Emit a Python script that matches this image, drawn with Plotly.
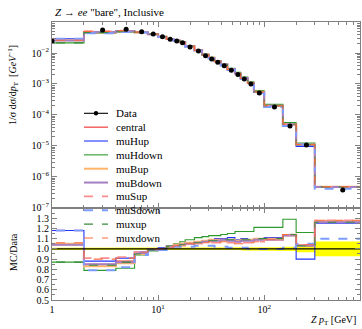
import plotly.graph_objects as go

# ---------------- data ----------------
bin_edges = [0, 2, 4, 6, 8, 10, 12, 14, 16, 18, 22, 26, 30, 34, 39, 45, 53, 60, 70, 80, 100, 150, 200, 300, 800]
data_vals = [0.0244, 0.0552, 0.058, 0.0487, 0.041, 0.0336, 0.0277, 0.0244, 0.0215, 0.0156, 0.0116, 0.0082,
             0.0064, 0.0050, 0.0039, 0.0028, 0.00204, 0.00144, 0.00100, 0.00051, 1.82e-4, 4.4e-5, 1.07e-5, 3.8e-7]
data_relerr = [0.01, 0.01, 0.01, 0.01, 0.01, 0.01, 0.01, 0.01, 0.01, 0.01, 0.01, 0.01,
               0.012, 0.012, 0.012, 0.012, 0.012, 0.015, 0.015, 0.015, 0.015, 0.02, 0.033, 0.072]

ratio_central = [1.04, 0.85, 0.88, 0.96, 0.99, 1.00, 1.02, 1.03, 1.04, 1.05, 1.06, 1.07, 1.08, 1.08, 1.09, 1.08, 1.07, 1.08, 1.08, 1.09, 1.10, 1.14, 1.04, 1.26]
ratio_muHup   = [1.18, 0.88, 0.91, 0.97, 0.99, 1.01, 1.03, 1.04, 1.05, 1.06, 1.07, 1.08, 1.09, 1.10, 1.10, 1.11, 1.09, 1.10, 1.09, 1.10, 1.11, 1.14, 0.90, 1.25]
ratio_muHdown = [0.87, 0.79, 0.81, 0.94, 0.98, 1.00, 1.03, 1.05, 1.07, 1.09, 1.11, 1.12, 1.13, 1.13, 1.14, 1.15, 1.17, 1.17, 1.17, 1.21, 1.21, 1.29, 1.16, 1.27]
ratio_muBup   = [1.05, 0.83, 0.86, 0.95, 0.99, 1.00, 1.02, 1.04, 1.05, 1.06, 1.07, 1.08, 1.09, 1.09, 1.09, 1.09, 1.08, 1.09, 1.09, 1.10, 1.10, 1.13, 1.03, 1.27]
ratio_muBdown = [1.04, 0.85, 0.87, 0.96, 0.99, 1.00, 1.02, 1.03, 1.04, 1.05, 1.06, 1.07, 1.08, 1.08, 1.09, 1.08, 1.07, 1.08, 1.08, 1.09, 1.09, 1.13, 1.03, 1.26]
ratio_muSup   = [1.18, 0.91, 0.92, 0.97, 1.00, 1.00, 1.02, 1.02, 1.03, 1.04, 1.05, 1.05, 1.06, 1.06, 1.07, 1.06, 1.05, 1.06, 1.06, 1.07, 1.09, 1.14, 1.04, 1.28]
ratio_muSdown = [1.18, 0.79, 0.82, 0.94, 0.98, 0.99, 1.01, 1.02, 1.02, 1.02, 1.03, 1.03, 1.03, 1.02, 1.02, 1.01, 1.01, 1.01, 1.00, 1.00, 1.00, 1.01, 1.05, 1.10]
ratio_muxup   = [0.87, 0.84, 0.87, 0.95, 0.99, 1.00, 1.02, 1.03, 1.04, 1.05, 1.06, 1.07, 1.08, 1.08, 1.09, 1.09, 1.08, 1.09, 1.09, 1.10, 1.10, 1.14, 1.03, 1.26]
ratio_muxdown = [1.06, 0.90, 0.91, 0.97, 1.00, 1.00, 1.02, 1.03, 1.04, 1.05, 1.05, 1.06, 1.07, 1.06, 1.07, 1.05, 1.05, 1.05, 1.06, 1.07, 1.09, 1.14, 1.04, 1.28]

series_names = ["central", "muHup", "muHdown", "muBup", "muBdown", "muSup", "muSdown", "muxup", "muxdown"]
series_ratios = [ratio_central, ratio_muHup, ratio_muHdown, ratio_muBup, ratio_muBdown,
                 ratio_muSup, ratio_muSdown, ratio_muxup, ratio_muxdown]
series_colors = ["#ee2a2a", "#2233ff", "#2e9a2e", "#ffb366", "#a57fc2", "#ff8c8c", "#7d9cff", "#3a8a3a", "#ff6a3d"]
series_widths = [1.1, 1.1, 1.1, 2.0, 2.0, 1.6, 2.0, 1.1, 1.1]
series_dash = ["solid", "solid", "solid", "solid", "solid", "dash", "dash", "dash", "dash"]

ratio_ticks = [0.5, 0.6, 0.7, 0.8, 0.9, 1.0, 1.1, 1.2, 1.3]
ratio_minor = [0.55, 0.65, 0.75, 0.85, 0.95, 1.05, 1.15, 1.25, 1.35]
main_ticks = [1e-7, 1e-6, 1e-5, 1e-4, 1e-3, 1e-2]
main_ticktext = ["10<sup>−7</sup>", "10<sup>−6</sup>", "10<sup>−5</sup>", "10<sup>−4</sup>", "10<sup>−3</sup>", "10<sup>−2</sup>"]
main_minor = [m * 10.0 ** p for p in range(-7, -1) for m in range(2, 10)]
x_ticks = [1, 10, 100]
x_ticktext = ["1", "10<sup>1</sup>", "10<sup>2</sup>"]
x_minor = [m * 10.0 ** p for p in range(0, 3) for m in range(2, 10) if m * 10.0 ** p <= 800]

FONT = "Liberation Serif"

# ---------------- helpers ----------------
edges_plot = [e if e > 0 else 0.5 for e in bin_edges]
centers = [(bin_edges[i] + bin_edges[i + 1]) / 2 for i in range(len(data_vals))]
centers_plot = [c if c >= 1 else 1.0 for c in centers]


def step_y(vals):
    return list(vals) + [vals[-1]]


fig = go.Figure()

# ratio band (data uncertainty)
bx, by = [], []
for i in range(len(data_vals)):
    bx += [edges_plot[i], edges_plot[i + 1]]
    by += [1 + data_relerr[i], 1 + data_relerr[i]]
for i in reversed(range(len(data_vals))):
    bx += [edges_plot[i + 1], edges_plot[i]]
    by += [1 - data_relerr[i], 1 - data_relerr[i]]
fig.add_trace(go.Scatter(x=bx, y=by, fill="toself", fillcolor="#ffff00", line=dict(width=0),
                         mode="lines", xaxis="x2", yaxis="y2", showlegend=False, hoverinfo="skip"))

# MC in main and ratio panels
for name, rat, col, w, d in zip(series_names, series_ratios, series_colors, series_widths, series_dash):
    mc = [dv * r for dv, r in zip(data_vals, rat)]
    fig.add_trace(go.Scatter(x=edges_plot, y=step_y(mc), mode="lines", line=dict(color=col, width=w, dash=d, shape="hv"),
                             xaxis="x", yaxis="y", showlegend=False, name=name))
    fig.add_trace(go.Scatter(x=edges_plot, y=step_y(rat), mode="lines", line=dict(color=col, width=w, dash=d, shape="hv"),
                             xaxis="x2", yaxis="y2", showlegend=False, name=name))

# data line in ratio
ones = [1.0 for _ in data_vals]
fig.add_trace(go.Scatter(x=edges_plot, y=step_y(ones), mode="lines", line=dict(color="black", width=1.1, shape="hv"),
                         xaxis="x2", yaxis="y2", showlegend=False))

# data points
fig.add_trace(go.Scatter(x=centers_plot, y=data_vals, mode="markers",
                         marker=dict(color="black", size=5),
                         error_y=dict(type="data", array=[v * e for v, e in zip(data_vals, data_relerr)],
                                      color="black", thickness=1, width=0),
                         xaxis="x", yaxis="y", showlegend=False, name="Data"))

GRAY = "#808080"
axis_common = dict(showline=True, linecolor=GRAY, linewidth=1, mirror="allticks", ticks="inside",
                   tickcolor=GRAY, ticklen=5, tickwidth=1, showgrid=False, zeroline=False, automargin=False,
                   tickfont=dict(family=FONT, size=10, color="black"))

fig.update_layout(
    width=362, height=329,
    margin=dict(l=52, r=2, t=22, b=29, autoexpand=False),
    paper_bgcolor="white", plot_bgcolor="white",
    font=dict(family=FONT, size=10, color="black"),
    showlegend=False,
    xaxis=dict(type="log", range=[0, 2.903], domain=[0, 1], anchor="y", showticklabels=False,
               tickmode="array", tickvals=x_ticks,
               minor=dict(ticks="inside", ticklen=3, tickcolor=GRAY, tickmode="array", tickvals=x_minor),
               **axis_common),
    xaxis2=dict(type="log", range=[0, 2.903], domain=[0, 1], anchor="y2", matches="x",
                tickmode="array", tickvals=x_ticks, ticktext=x_ticktext,
                minor=dict(ticks="inside", ticklen=3, tickcolor=GRAY, tickmode="array", tickvals=x_minor),
                **axis_common),
    yaxis=dict(type="log", range=[-7, -1], domain=[0.331, 1], anchor="x",
               tickmode="array", tickvals=main_ticks, ticktext=main_ticktext,
               minor=dict(ticks="inside", ticklen=3, tickcolor=GRAY, tickmode="array", tickvals=main_minor),
               **axis_common),
    yaxis2=dict(range=[0.5, 1.4], domain=[0, 0.331], anchor="x2",
                tickmode="array", tickvals=ratio_ticks, ticktext=["%.1f" % t for t in ratio_ticks],
                minor=dict(ticks="inside", ticklen=3, tickcolor=GRAY, tickmode="array", tickvals=ratio_minor),
                **axis_common),
)

# ---------------- text ----------------
W, H, L, T = 308.0, 278.0, 52.0, 22.0


def px(xp):
    return (xp - L) / W


def py(yp):
    return (T + H - yp) / H


annotations = [
    dict(text="<i>Z</i> → <i>ee</i> \"bare\", Inclusive", x=px(53), y=py(12), xanchor="left", yanchor="middle",
         font=dict(family=FONT, size=11)),
    dict(text="1/σ dσ/d<i>p</i><sub>T</sub>  [<i>GeV</i><sup>−1</sup>]",
         x=px(13), y=py(85), textangle=-90, xanchor="center", yanchor="middle", font=dict(family=FONT, size=10)),
    dict(text="MC/Data", x=px(13), y=py(252), textangle=-90, xanchor="center", yanchor="middle",
         font=dict(family=FONT, size=10)),
    dict(text="<i>Z p</i><sub>T</sub> [GeV]", x=px(358), y=py(320), xanchor="right", yanchor="middle",
         font=dict(family=FONT, size=10)),
]

# manual legend
leg_names = ["Data"] + series_names
leg_colors = ["black"] + series_colors
leg_widths = [1.1] + series_widths
leg_dash = ["solid"] + series_dash
shapes = []
for i, (n, c, w, d) in enumerate(zip(leg_names, leg_colors, leg_widths, leg_dash)):
    yy = 113.3 + 13.85 * i
    shapes.append(dict(type="line", xref="paper", yref="paper", x0=px(84), x1=px(108), y0=py(yy), y1=py(yy),
                       line=dict(color=c, width=w, dash=d)))
    annotations.append(dict(text=n, x=px(114), y=py(yy), xanchor="left", yanchor="middle",
                            font=dict(family=FONT, size=11)))
shapes.append(dict(type="circle", xref="paper", yref="paper", x0=px(93.8), x1=px(98.2), y0=py(115.5), y1=py(111.1),
                   fillcolor="black", line=dict(color="black", width=0)))

for a in annotations:
    a.setdefault("xref", "paper")
    a.setdefault("yref", "paper")
    a.setdefault("showarrow", False)

fig.update_layout(annotations=annotations, shapes=shapes)

fig.write_html("out.html", config={"displayModeBar": False},
               post_script="document.body.style.margin='0px';document.body.style.padding='0px';"
                           "document.body.style.overflow='hidden';")
